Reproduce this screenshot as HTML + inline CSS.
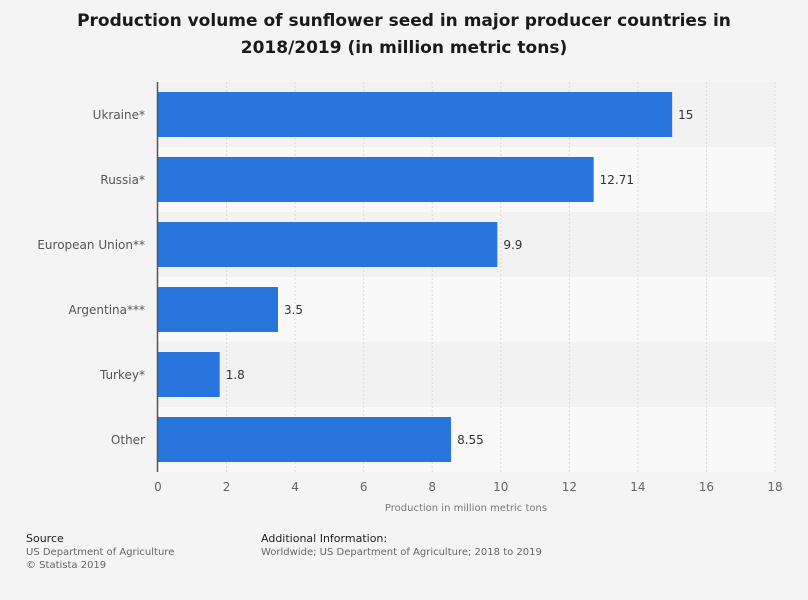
<!DOCTYPE html>
<html><head><meta charset="utf-8"><style>
body{margin:0;background:#f4f4f4;font-family:"Liberation Sans","DejaVu Sans",sans-serif;}
#wrap{position:relative;width:808px;height:600px;overflow:hidden;background:#f4f4f4}
.t{position:absolute;left:0;width:808px;text-align:center;top:8px;font-weight:bold;font-size:17px;line-height:27px;color:#1a1a1a;font-family:"DejaVu Sans",sans-serif}
.f{position:absolute;font-size:10px;color:#666;line-height:13px;font-family:"DejaVu Sans",sans-serif}
.f b{font-weight:normal;color:#222;font-size:11px}
</style></head><body>
<div id="wrap">
<div class="t">Production volume of sunflower seed in major producer countries in<br>2018/2019 (in million metric tons)</div>
<svg id="c" width="808" height="600" style="position:absolute;left:0;top:0"></svg>
<div class="f" style="left:26px;top:532px"><b>Source</b><br>US Department of Agriculture<br>© Statista 2019</div>
<div class="f" style="left:261px;top:532px"><b>Additional Information:</b><br>Worldwide; US Department of Agriculture; 2018 to 2019</div>
</div>
<script>
const categories=["Ukraine*","Russia*","European Union**","Argentina***","Turkey*","Other"];
const values=[15,12.71,9.9,3.5,1.8,8.55];
const valueLabels=["15","12.71","9.9","3.5","1.8","8.55"];
const ticks=[0,2,4,6,8,10,12,14,16,18];
const svg=document.getElementById('c');const NS='http://www.w3.org/2000/svg';
const x0=158,x1=775,plotTop=82,rowH=65;
const xs=v=>x0+(v/18)*(x1-x0);
const ys=i=>plotTop+i*rowH;
function mk(t,a){const e=document.createElementNS(NS,t);for(const k in a)e.setAttribute(k,a[k]);svg.appendChild(e);return e;}
categories.forEach((c,i)=>{const b=mk('rect',{x:x0,y:ys(i),width:x1-x0,height:rowH,fill:i%2?'#f9f9f9':'#f2f2f2'});

});
ticks.forEach(t=>{if(t>0){const l=mk('line',{x1:xs(t),x2:xs(t),y1:plotTop,y2:plotTop+6*rowH,stroke:'#dcdcdc','stroke-dasharray':'2,2'});

}
const tx=mk('text',{x:xs(t),y:491,'text-anchor':'middle','font-size':12,fill:'#666','font-family':'DejaVu Sans,sans-serif'});tx.textContent=t;

});
categories.forEach((c,i)=>{
const r=mk('rect',{x:x0,y:ys(i)+10,width:xs(values[i])-x0,height:45,fill:'#2876dd'});


const v=mk('text',{x:xs(values[i])+6,y:ys(i)+37,'font-size':12,fill:'#333','font-family':'DejaVu Sans,sans-serif'});v.textContent=valueLabels[i];


const lb=mk('text',{x:145,y:ys(i)+37,'text-anchor':'end','font-size':12,fill:'#555','font-family':'DejaVu Sans,sans-serif'});lb.textContent=c;

});
const ax=mk('line',{x1:x0-0.5,x2:x0-0.5,y1:plotTop,y2:plotTop+6*rowH,stroke:'#555','stroke-width':1.5});


const xt=mk('text',{x:466,y:511,'text-anchor':'middle','font-size':10,fill:'#777','font-family':'DejaVu Sans,sans-serif'});xt.textContent='Production in million metric tons';


</script>
</body></html>
